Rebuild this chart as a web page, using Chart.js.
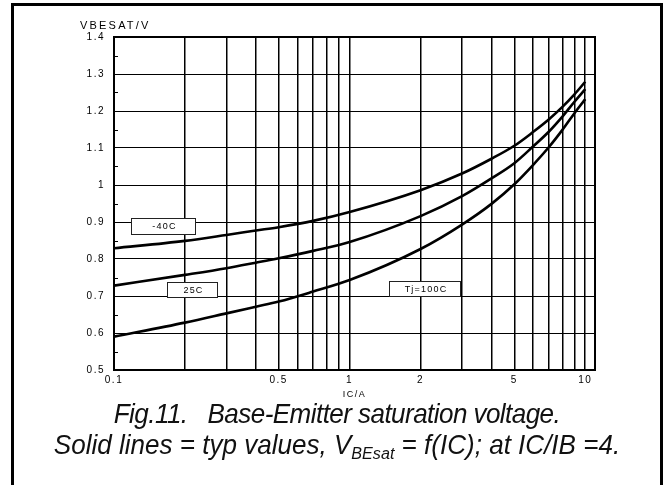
<!DOCTYPE html>
<html>
<head>
<meta charset="utf-8">
<script src="https://cdn.jsdelivr.net/npm/chart.js@4.4.1/dist/chart.umd.min.js"></script>
<style>
  body { margin: 0; background: #fff; }
  #wrap { position: relative; width: 667px; height: 485px; overflow: hidden; }
  #frame { position: absolute; left: 11px; top: 3px; width: 646px; height: 520px; border: 3px solid #000; }
  #chart { position: absolute; left: 0; top: 0; }
  #ylab { position: absolute; left: 80px; top: 19px; font: 11px "Liberation Sans", Arial, sans-serif; letter-spacing: 2.2px; color: #000; }
  #caption { position: absolute; left: 12px; width: 650px; top: 398px; text-align: center;
             font: italic 28px/31px "Liberation Sans", Arial, sans-serif; color: #111;
             transform: scaleX(0.93); transform-origin: 50% 0; white-space: pre; }
  #caption .l1 { letter-spacing: -0.6px; }
  #caption sub { font-size: 0.62em; vertical-align: -0.3em; line-height: 0; }
</style>
</head>
<body>
<div id="wrap">
  <div id="frame"></div>
  <canvas id="chart" width="667" height="485"></canvas>
  <div id="ylab">VBESAT/V</div>
  <div id="caption"><span class="l1">Fig.11.   Base-Emitter saturation voltage.</span>
Solid lines = typ values, V<sub>BEsat</sub> = f(IC); at IC/IB =4.</div>
</div>
<script>
// collector current IC / A
const icValues = [0.1, 0.2, 0.3, 0.4, 0.5, 0.7, 1, 2, 3, 4, 5, 6, 7, 8, 9, 10];
// VBEsat / V for each temperature
const vbeMinus40 = [0.829, 0.849, 0.865, 0.877, 0.886, 0.903, 0.927, 0.986, 1.031, 1.071, 1.106, 1.143, 1.177, 1.211, 1.245, 1.279];
const vbe25 = [0.728, 0.757, 0.775, 0.790, 0.802, 0.822, 0.846, 0.916, 0.970, 1.018, 1.059, 1.104, 1.144, 1.185, 1.225, 1.259];
const vbe100 = [0.590, 0.628, 0.653, 0.671, 0.685, 0.712, 0.743, 0.827, 0.893, 0.949, 1.002, 1.054, 1.102, 1.149, 1.194, 1.232];

// log grid lines and the ones that carry a label
const xGridValues = [0.1, 0.2, 0.3, 0.4, 0.5, 0.6, 0.7, 0.8, 0.9, 1, 2, 3, 4, 5, 6, 7, 8, 9, 10];
const xTickLabels = [0.1, 0.5, 1, 2, 5, 10];

// curve labels, given in data units: [text, xLeft, xRight, yTop, yBottom]
const curveLabels = [
  ["-40C", 0.118, 0.221, 0.911, 0.868],
  ["25C", 0.168, 0.274, 0.738, 0.697],
  ["Tj=100C", 1.466, 2.94, 0.741, 0.700]
];

const series = (ys) => icValues.map((x, i) => ({ x: x, y: ys[i] }));

const spacing = {
  id: "spacing",
  beforeLayout(chart) { chart.ctx.letterSpacing = "1.5px"; },
  beforeDraw(chart) { chart.ctx.letterSpacing = "1.5px"; }
};

const extras = {
  id: "extras",
  afterDraw(chart) {
    const ctx = chart.ctx;
    const a = chart.chartArea;
    const xs = chart.scales.x, ys = chart.scales.y;
    ctx.save();
    // minor ticks on the left axis, halfway between the labelled ones
    ctx.strokeStyle = "#000";
    ctx.lineWidth = 1;
    const t = ys.ticks.map(k => k.value);
    for (let i = 0; i < t.length - 1; i++) {
      const y = Math.round(ys.getPixelForValue((t[i] + t[i + 1]) / 2)) + 0.5;
      ctx.beginPath();
      ctx.moveTo(a.left, y);
      ctx.lineTo(a.left + 4, y);
      ctx.stroke();
    }
    // plot frame
    ctx.lineWidth = 2;
    ctx.strokeRect(a.left, a.top, a.right - a.left, a.bottom - a.top);
    // curve labels in boxes
    ctx.font = "9px 'Liberation Sans', Arial, sans-serif";
    ctx.letterSpacing = "1.2px";
    ctx.textAlign = "center";
    ctx.textBaseline = "middle";
    curveLabels.forEach(([txt, x0, x1, y0, y1]) => {
      const l = Math.round(xs.getPixelForValue(x0)) + 0.5;
      const r = Math.round(xs.getPixelForValue(x1)) + 0.5;
      const tp = Math.round(ys.getPixelForValue(y0)) + 0.5;
      const b = Math.round(ys.getPixelForValue(y1)) + 0.5;
      ctx.fillStyle = "#fff";
      ctx.fillRect(l, tp, r - l, b - tp);
      ctx.lineWidth = 1;
      ctx.strokeStyle = "#222";
      ctx.strokeRect(l, tp, r - l, b - tp);
      ctx.fillStyle = "#000";
      ctx.fillText(txt, (l + r) / 2 + 1, (tp + b) / 2 + 0.5);
    });
    ctx.restore();
  }
};

const lineStyle = {
  borderColor: "#000",
  borderWidth: 2.6,
  pointRadius: 0,
  fill: false,
  cubicInterpolationMode: "monotone"
};

new Chart(document.getElementById("chart"), {
  type: "line",
  data: {
    datasets: [
      Object.assign({ label: "-40C", data: series(vbeMinus40) }, lineStyle),
      Object.assign({ label: "25C", data: series(vbe25) }, lineStyle),
      Object.assign({ label: "Tj=100C", data: series(vbe100) }, lineStyle)
    ]
  },
  options: {
    responsive: false,
    animation: false,
    layout: { padding: { left: 0, top: 37, right: 72, bottom: 85 } },
    plugins: { legend: { display: false }, tooltip: { enabled: false } },
    scales: {
      x: {
        type: "logarithmic",
        min: 0.1,
        max: 11,
        afterBuildTicks: (scale) => { scale.ticks = xGridValues.map(v => ({ value: v })); },
        afterFit: (scale) => { scale.height = 30; },
        grid: { color: "#000", lineWidth: 1.5, drawTicks: false },
        border: { display: false },
        ticks: {
          autoSkip: false,
          maxRotation: 0,
          padding: 4,
          color: "#000",
          font: { family: "'Liberation Sans', Arial, sans-serif", size: 10 },
          callback: (v) => xTickLabels.includes(v) ? String(v) : ""
        },
        title: {
          display: true,
          text: "IC/A",
          color: "#000",
          padding: { top: -2, bottom: 0 },
          font: { family: "'Liberation Sans', Arial, sans-serif", size: 9 }
        }
      },
      y: {
        min: 0.5,
        max: 1.4,
        afterFit: (scale) => { scale.width = 114; },
        grid: { color: "#000", lineWidth: 1, drawTicks: false },
        border: { display: false },
        ticks: {
          stepSize: 0.1,
          padding: 9,
          color: "#000",
          font: { family: "'Liberation Sans', Arial, sans-serif", size: 10 },
          callback: (v) => String(+v.toFixed(1))
        }
      }
    }
  },
  plugins: [spacing, extras]
});
</script>
</body>
</html>
